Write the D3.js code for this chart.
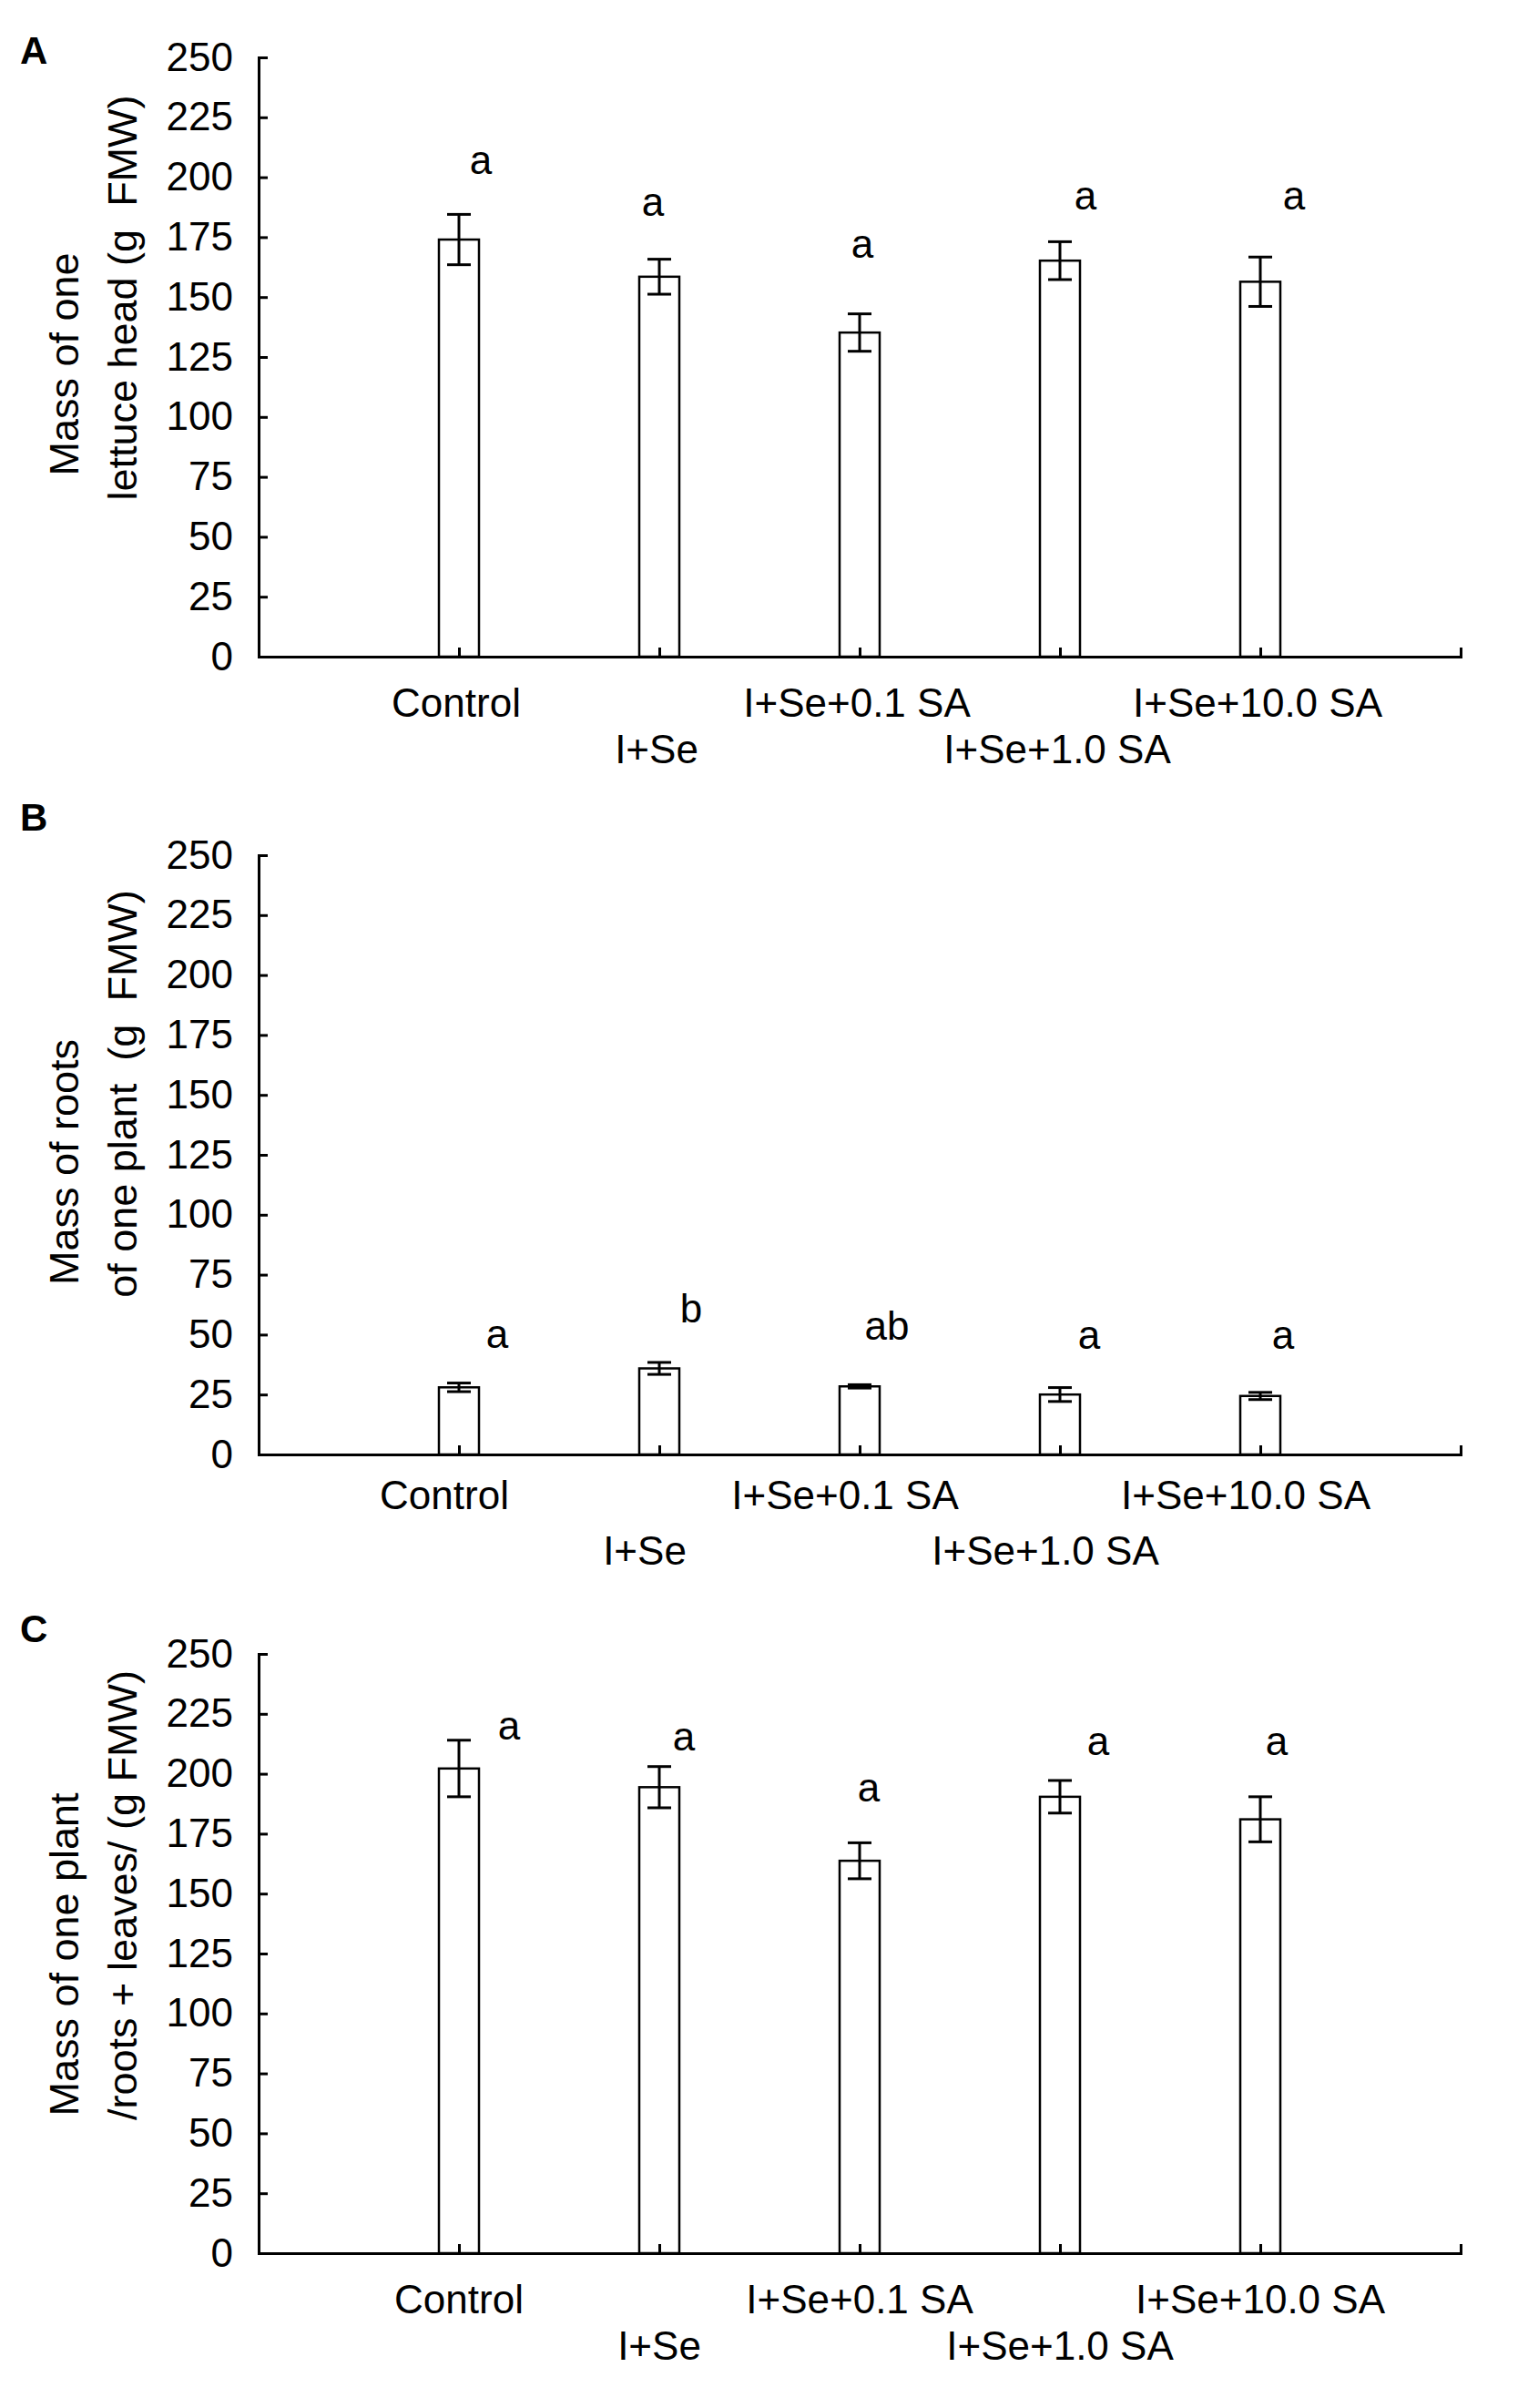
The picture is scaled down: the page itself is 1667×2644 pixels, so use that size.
<!DOCTYPE html>
<html>
<head>
<meta charset="utf-8">
<script src="https://cdn.jsdelivr.net/npm/d3@7"></script>
<style>
  body { margin: 0; background: #fff; }
  text { font-family: "Liberation Sans", Arial, sans-serif; fill: #000; }
</style>
</head>
<body>
<div id="chart"></div>
<script>
// Treatments on the x axis (same for all three panels)
const categories = ["Control", "I+Se", "I+Se+0.1 SA", "I+Se+1.0 SA", "I+Se+10.0 SA"];
const yTicks = [0, 25, 50, 75, 100, 125, 150, 175, 200, 225, 250];

// A: mass of one lettuce head
const headMean = [174.0, 158.5, 135.2, 165.2, 156.4];
const headErr = [10.5, 7.3, 7.8, 7.9, 10.3];
const headLetters = ["a", "a", "a", "a", "a"];
const headLetterLevel = [201.4, 183.9, 166.5, 186.6, 186.6];

// B: mass of roots of one plant
const rootMean = [28.0, 35.9, 28.4, 25.0, 24.4];
const rootErr = [1.8, 2.5, 0.7, 2.9, 1.5];
const rootLetters = ["a", "b", "ab", "a", "a"];
const rootLetterLevel = [44.3, 55.2, 48.0, 44.0, 44.0];

// C: mass of one plant (roots + leaves)
const plantMean = [202.2, 194.4, 163.7, 190.4, 181.0];
const plantErr = [11.8, 8.6, 7.5, 6.8, 9.4];
const plantLetters = ["a", "a", "a", "a", "a"];
const plantLetterLevel = [214.4, 209.9, 188.5, 208.0, 208.0];

const width = 1667, height = 2644;
const left = 284, right = 1604, plotH = 658;

const svg = d3.select("#chart").append("svg")
    .attr("width", width)
    .attr("height", height)
    .attr("viewBox", [0, 0, width, height]);

svg.append("rect").attr("width", width).attr("height", height).attr("fill", "#fff");

// one slot before the first bar, bars sit on the slot boundaries
const x = d3.scaleLinear().domain([0, categories.length + 1]).range([left, right]);

const panels = [
  { tag: "A", top: 63, mean: headMean, err: headErr, letters: headLetters, level: headLetterLevel,
    tagY: 70, title: ["Mass of one", "lettuce head (g  FMW)"], titleY: [400, 327],
    letterDx: [24, -7, 3, 28, 37], labelDx: -3, rows: [66, 117] },
  { tag: "B", top: 939, mean: rootMean, err: rootErr, letters: rootLetters, level: rootLetterLevel,
    tagY: 912, title: ["Mass of roots", "of one plant  (g  FMW)"], titleY: [1276, 1201],
    letterDx: [42, 35, 30, 32, 25], labelDx: -16, rows: [60, 121] },
  { tag: "C", top: 1816, mean: plantMean, err: plantErr, letters: plantLetters, level: plantLetterLevel,
    tagY: 1803, title: ["Mass of one plant", "/roots + leaves/ (g FMW)"], titleY: [2146, 2081],
    letterDx: [55, 27, 10, 42, 18], labelDx: 0, rows: [66, 117] }
];

panels.forEach(p => {
  const bottom = p.top + plotH;
  const y = d3.scaleLinear().domain([0, 250]).range([bottom, p.top]);
  const g = svg.append("g");
  const rows = categories.map((c, i) => ({ c, i, m: p.mean[i], e: p.err[i], l: p.letters[i], lv: p.level[i] }));

  // panel letter
  g.append("text")
    .attr("x", 22).attr("y", p.tagY)
    .attr("font-size", 42).attr("font-weight", "bold")
    .text(p.tag);

  // y axis title, two rotated lines
  p.title.forEach((t, k) => {
    g.append("text")
      .attr("transform", `translate(${k === 0 ? 86 : 150},${p.titleY[k]}) rotate(-90)`)
      .attr("text-anchor", "middle")
      .attr("font-size", 45)
      .style("white-space", "pre")
      .text(t);
  });

  // bars
  g.selectAll(".bar")
    .data(rows)
    .join("rect")
    .attr("class", "bar")
    .attr("x", d => x(d.i + 1) - 22)
    .attr("width", 44)
    .attr("y", d => y(d.m))
    .attr("height", d => y(0) - y(d.m))
    .attr("fill", "#fff")
    .attr("stroke", "#000")
    .attr("stroke-width", 2.5);

  // error bars
  const eb = g.selectAll(".err")
    .data(rows)
    .join("g")
    .attr("class", "err")
    .attr("stroke", "#000")
    .attr("stroke-width", 3);
  eb.append("line")
    .attr("x1", d => x(d.i + 1)).attr("x2", d => x(d.i + 1))
    .attr("y1", d => y(d.m - d.e)).attr("y2", d => y(d.m + d.e));
  eb.append("line")
    .attr("x1", d => x(d.i + 1) - 13).attr("x2", d => x(d.i + 1) + 13)
    .attr("y1", d => y(d.m + d.e)).attr("y2", d => y(d.m + d.e));
  eb.append("line")
    .attr("x1", d => x(d.i + 1) - 13).attr("x2", d => x(d.i + 1) + 13)
    .attr("y1", d => y(d.m - d.e)).attr("y2", d => y(d.m - d.e));

  // significance letters
  g.selectAll(".sig")
    .data(rows)
    .join("text")
    .attr("class", "sig")
    .attr("x", d => x(d.i + 1) + p.letterDx[d.i])
    .attr("y", d => y(d.lv))
    .attr("text-anchor", "middle")
    .attr("font-size", 44)
    .text(d => d.l);

  // y axis, ticks pointing inward
  const ya = g.append("g")
    .attr("transform", `translate(${left},0)`)
    .call(d3.axisLeft(y).tickValues(yTicks).tickSizeInner(-10).tickSizeOuter(0).tickPadding(28));
  ya.selectAll("text").attr("font-size", 44).attr("font-family", null).attr("fill", "#000");

  // x axis, small ticks at bar centres
  const xa = g.append("g")
    .attr("transform", `translate(0,${bottom})`)
    .call(d3.axisBottom(x).tickValues(d3.range(1, categories.length + 2)).tickSizeInner(-10).tickSizeOuter(0).tickFormat(""));

  [ya, xa].forEach(a => {
    a.select(".domain").attr("stroke-width", 3).attr("stroke-linecap", "square");
    a.selectAll(".tick line").attr("stroke-width", 3);
  });

  // staggered category labels
  g.selectAll(".cat")
    .data(rows)
    .join("text")
    .attr("class", "cat")
    .attr("x", d => x(d.i + 1) + p.labelDx)
    .attr("y", d => bottom + p.rows[d.i % 2])
    .attr("text-anchor", "middle")
    .attr("font-size", 44)
    .style("white-space", "pre")
    .text(d => d.c);
});
</script>
</body>
</html>
